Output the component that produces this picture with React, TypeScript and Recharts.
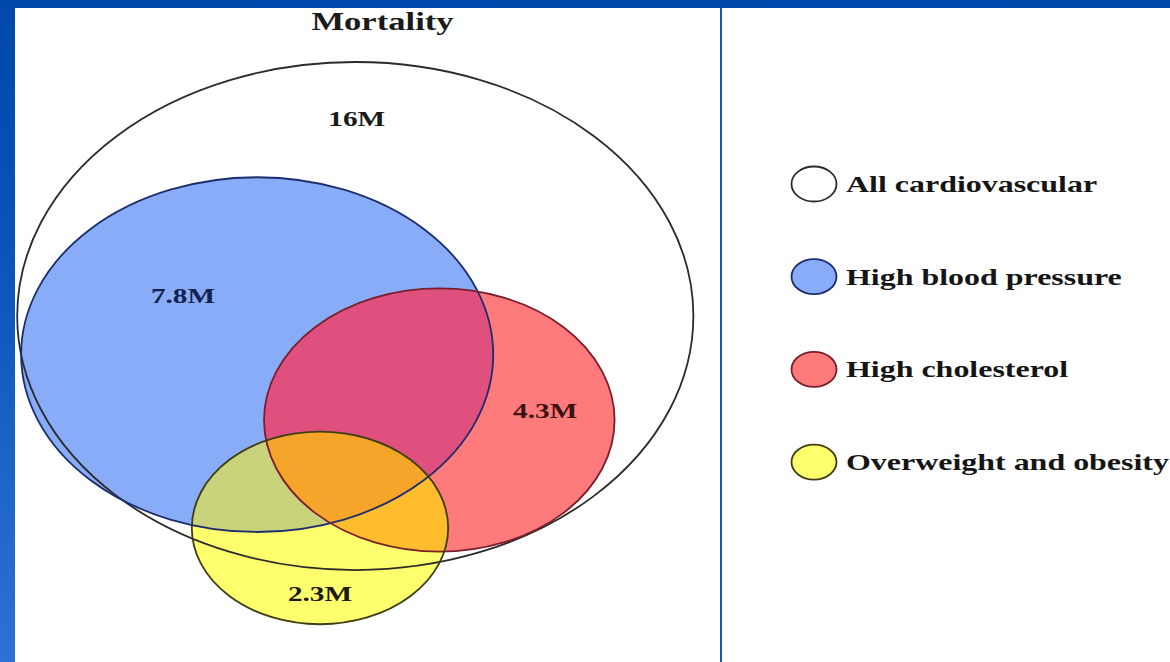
import React from 'react';
import { ScatterChart, Scatter, XAxis, YAxis } from 'recharts';

// mortality (millions of deaths) attributed to each risk set
const sets = ['All cardiovascular', 'High blood pressure', 'High cholesterol', 'Overweight and obesity'];
const deaths = [16, 7.8, 4.3, 2.3];
// circle centres in diagram units (0-100 each way, y from the top)
const centerX = [48.2, 34.3, 60.1, 43.2];
const centerY = [47.1, 53.0, 63.0, 79.5];
// in-diagram value labels
const labelText = ['16M', '7.8M', '4.3M', '2.3M'];
const labelX = [48.4, 23.8, 75.1, 43.2];
const labelY = [16.9, 44.0, 61.6, 89.6];

const CHART_W = 1155;
const CHART_H = 654;
const PLOT_W = 706;
const PX_PER_Y = CHART_H / 100;
// the slide squashed the circles, so they are wider than tall
const STRETCH = 1.331;
const UNITS_PER_SQRT_M = 9.71;

const FONT = '"Liberation Serif", "Times New Roman", serif';

const fills = ['#ffffff', '#88acf7', '#ff7b7b', '#ffff6e'];
const strokes = ['#2b2b2b', '#1c2d6e', '#7a1e2e', '#3e3e12'];
const labelColors = ['#1a1a1a', '#13224e', '#3a1212', '#1a1a10'];
// colours where circles overlap: [circle, clipped by circles, colour]
const overlaps: [number, number[], string][] = [
  [2, [1], '#e0507f'],
  [3, [1], '#c9d37c'],
  [3, [2], '#ffbd2e'],
  [3, [1, 2], '#f5a52a'],
];

const rows = sets.map((name, i) => ({ idx: i, name, deaths: deaths[i], x: centerX[i], y: centerY[i] }));
const labelRows = labelText.map((text, i) => ({ idx: i, text, x: labelX[i], y: labelY[i] }));

function radii(v: number) {
  const ry = UNITS_PER_SQRT_M * Math.sqrt(v) * PX_PER_Y;
  return { rx: ry * STRETCH, ry };
}

function FillShape(props: any) {
  const { cx, cy, payload } = props;
  const { rx, ry } = radii(payload.deaths);
  const i = payload.idx;
  return (
    <g>
      <defs>
        <clipPath id={`venn-clip-${i}`}>
          <ellipse cx={cx} cy={cy} rx={rx} ry={ry} />
        </clipPath>
      </defs>
      <ellipse cx={cx} cy={cy} rx={rx} ry={ry} fill={fills[i]} />
      {overlaps
        .filter((o) => o[0] === i)
        .map((o, k) => {
          let el: React.ReactNode = <ellipse cx={cx} cy={cy} rx={rx} ry={ry} fill={o[2]} />;
          o[1].forEach((c) => {
            el = <g clipPath={`url(#venn-clip-${c})`}>{el}</g>;
          });
          return <g key={k}>{el}</g>;
        })}
    </g>
  );
}

function StrokeShape(props: any) {
  const { cx, cy, payload } = props;
  const { rx, ry } = radii(payload.deaths);
  return <ellipse cx={cx} cy={cy} rx={rx} ry={ry} fill="none" stroke={strokes[payload.idx]} strokeWidth={1.8} />;
}

function LabelShape(props: any) {
  const { cx, cy, payload } = props;
  return (
    <text
      transform={`translate(${cx},${cy}) scale(${STRETCH},1)`}
      textAnchor="middle"
      dominantBaseline="central"
      fontFamily={FONT}
      fontWeight="bold"
      fontSize={22}
      fill={labelColors[payload.idx]}
    >
      {payload.text}
    </text>
  );
}

function VennLegend() {
  return (
    <svg width={CHART_W} height={CHART_H} style={{ position: 'absolute', left: 0, top: 0, pointerEvents: 'none' }}>
      <text
        transform={`translate(367.5,22) scale(${STRETCH},1)`}
        textAnchor="middle"
        fontFamily={FONT}
        fontWeight="bold"
        fontSize={26}
        fill="#1a1a1a"
      >
        Mortality
      </text>
      {sets.map((name, i) => {
        const cy = 176 + i * 92.7;
        return (
          <g key={name}>
            <ellipse cx={799} cy={cy} rx={22.5} ry={17.5} fill={fills[i]} stroke={strokes[i]} strokeWidth={1.8} />
            <text
              transform={`translate(831,${cy + 8}) scale(${STRETCH},1)`}
              fontFamily={FONT}
              fontWeight="bold"
              fontSize={24}
              fill="#151515"
            >
              {name}
            </text>
          </g>
        );
      })}
    </svg>
  );
}

export default function App() {
  return (
    <div
      style={{
        position: 'absolute',
        left: 0,
        top: 0,
        width: 1170,
        height: 662,
        overflow: 'hidden',
        background: 'linear-gradient(to bottom, #0049ab 0%, #0a52b6 35%, #1f66c9 75%, #2c72d2 100%)',
      }}
    >
      <div
        style={{
          position: 'absolute',
          left: 15,
          top: 8,
          width: CHART_W,
          height: CHART_H,
          background: '#ffffff',
          overflow: 'hidden',
        }}
      >
        <ScatterChart width={CHART_W} height={CHART_H} margin={{ top: 0, right: CHART_W - PLOT_W, bottom: 0, left: 0 }}>
          <XAxis type="number" dataKey="x" domain={[0, 100]} hide />
          <YAxis type="number" dataKey="y" domain={[0, 100]} reversed hide />
          <Scatter data={rows} shape={FillShape} isAnimationActive={false} />
          <Scatter data={rows} shape={StrokeShape} isAnimationActive={false} />
          <Scatter data={labelRows} shape={LabelShape} isAnimationActive={false} />
        </ScatterChart>
        <VennLegend />
        <div style={{ position: 'absolute', left: PLOT_W - 1, top: 0, width: 2, height: CHART_H, background: '#1a55b5' }} />
      </div>
    </div>
  );
}
